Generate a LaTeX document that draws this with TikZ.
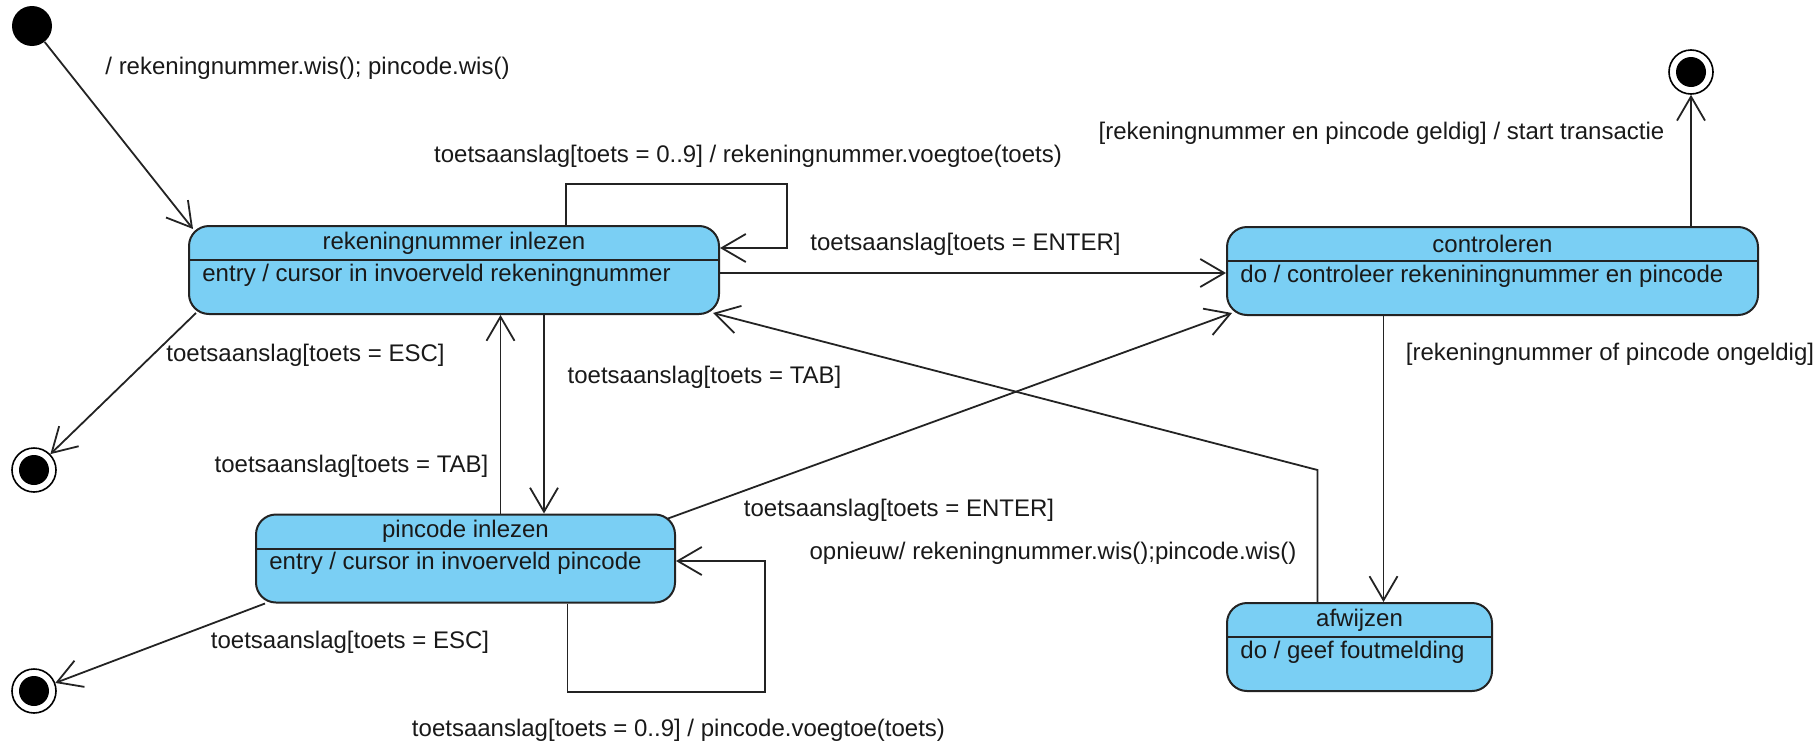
\documentclass[tikz,border=0pt]{standalone}
\usepackage{fontspec}
\setmainfont{Liberation Sans}
\usepackage{tikz}
\usetikzlibrary{calc}
\usetikzlibrary{arrows.meta, positioning, shapes.geometric}

\definecolor{stateblue}{RGB}{122,207,244}
\definecolor{linegray}{RGB}{35,35,35}
\definecolor{textgray}{RGB}{25,25,25}

\begin{document}
\begin{tikzpicture}[x=0.5pt,y=-0.5pt,
    statebox/.style={rectangle,rounded corners=10pt,draw=linegray,line width=1pt,fill=stateblue,minimum height=44pt,inner sep=0pt},
    divider/.style={draw=linegray,line width=1pt},
    lbl/.style={font=\fontsize{12}{14}\selectfont,text=textgray,inner sep=0pt},
    trans/.style={draw=linegray,line width=0.9pt,-{Straight Barb[length=12pt,width=14pt]}},
    startdot/.style={circle,fill=black,minimum size=20pt,inner sep=0pt},
    enddot/.style={circle,draw=black,line width=0.8pt,fill=white,minimum size=22pt,inner sep=0pt,
        path picture={\fill[black] (path picture bounding box.center) circle (7.5pt);}}]
    \useasboundingbox (0,0) rectangle (1819,744);

    % 起点和终点
    \node[startdot] (init) at (32,26) {};
    \node[enddot] (fin1) at (1691,72) {};
    \node[enddot] (fin2) at (34,470) {};
    \node[enddot] (fin3) at (34,691) {};

    % 状态框
    \node[statebox,minimum width=265pt] (rek) at (454,270) {};
    \node[statebox,minimum width=209.5pt] (pin) at (465.5,558.5) {};
    \node[statebox,minimum width=265.5pt] (contr) at (1492.5,271) {};
    \node[statebox,minimum width=132.5pt] (afw) at (1359.5,647) {};
    \foreach \s in {rek,pin,contr,afw} {
        \draw[divider] ([yshift=-17.5pt]\s.north west) -- ([yshift=-17.5pt]\s.north east);
    }

    % 状态名和动作
    \node[lbl] (rektitle) at ([yshift=-9pt]rek.north) {rekeningnummer inlezen};
    \node[lbl,anchor=west] (rekentry) at ([xshift=7pt,yshift=-25pt]rek.north west) {entry / cursor in invoerveld rekeningnummer};
    \node[lbl] (pintitle) at ([yshift=-9pt]pin.north) {pincode inlezen};
    \node[lbl,anchor=west] (pinentry) at ([xshift=7pt,yshift=-25pt]pin.north west) {entry / cursor in invoerveld pincode};
    \node[lbl] (contrtitle) at ([yshift=-9pt]contr.north) {controleren};
    \node[lbl,anchor=west] (contrentry) at ([xshift=7pt,yshift=-25pt]contr.north west) {do / controleer rekeniningnummer en pincode};
    \node[lbl] (afwtitle) at ([yshift=-9pt]afw.north) {afwijzen};
    \node[lbl,anchor=west] (afwentry) at ([xshift=7pt,yshift=-25pt]afw.north west) {do / geef foutmelding};

    % 转换
    \coordinate (afwin) at ([xshift=12pt]afw.north);
    \draw[trans] (init) -- ([xshift=2.5pt,yshift=-2pt]rek.north west);
    \draw[trans] ([xshift=56pt]rek.north) |- (787,184) |- ([yshift=11pt]rek.east);
    \draw[trans] ([yshift=-1.5pt]rek.east) -- ([yshift=-1pt]contr.west);
    \draw[trans] (contr.north -| fin1.south) -- (fin1.south);
    \draw[trans] (contr.south -| afwin) -- (afwin);
    \draw[trans] ([xshift=-21pt]afw.north) -- ++(0,-132) -- ([xshift=-3.5pt,yshift=1pt]rek.south east);
    \draw[trans] ([xshift=45pt]rek.south) -- ([xshift=45pt]rek.south |- pin.north);
    \draw[trans] ([xshift=17.5pt]pin.north) -- ([xshift=17.5pt]pin.north |- rek.south);
    \draw[trans] ([xshift=-4pt,yshift=-2.5pt]pin.north east) -- ([xshift=3pt,yshift=1.5pt]contr.south west);
    \draw[trans] ([xshift=51pt]pin.south) |- (765,692) |- ([yshift=-1.25pt]pin.east);
    \draw[trans] ([xshift=4pt,yshift=1pt]rek.south west) -- (fin2);
    \draw[trans] ([xshift=5pt]pin.south west) -- (fin3);

    % 转换标签
    \node[lbl] (initlbl) at (307.5,68) {/ rekeningnummer.wis(); pincode.wis()};
    \node[lbl] (rekloop) at (748,156) {toetsaanslag[toets = 0..9] / rekeningnummer.voegtoe(toets)};
    \node[lbl] (enter1) at (965.5,244) {toetsaanslag[toets = ENTER]};
    \node[lbl] (geldig) at (1381.5,133) {[rekeningnummer en pincode geldig] / start transactie};
    \node[lbl] (ongeldig) at (1610,354) {[rekeningnummer of pincode ongeldig]};
    \node[lbl] (opnieuw) at (1053,553) {opnieuw/ rekeningnummer.wis();pincode.wis()};
    \node[lbl] (esc1) at (305.5,355) {toetsaanslag[toets = ESC]};
    \node[lbl] (tab1) at (704.5,377) {toetsaanslag[toets = TAB]};
    \node[lbl] (tab2) at (351.5,466) {toetsaanslag[toets = TAB]};
    \node[lbl] (enter2) at (899,510) {toetsaanslag[toets = ENTER]};
    \node[lbl] (esc2) at (350,642) {toetsaanslag[toets = ESC]};
    \node[lbl] (pinloop) at (678.5,730) {toetsaanslag[toets = 0..9] / pincode.voegtoe(toets)};
\end{tikzpicture}
\end{document}
